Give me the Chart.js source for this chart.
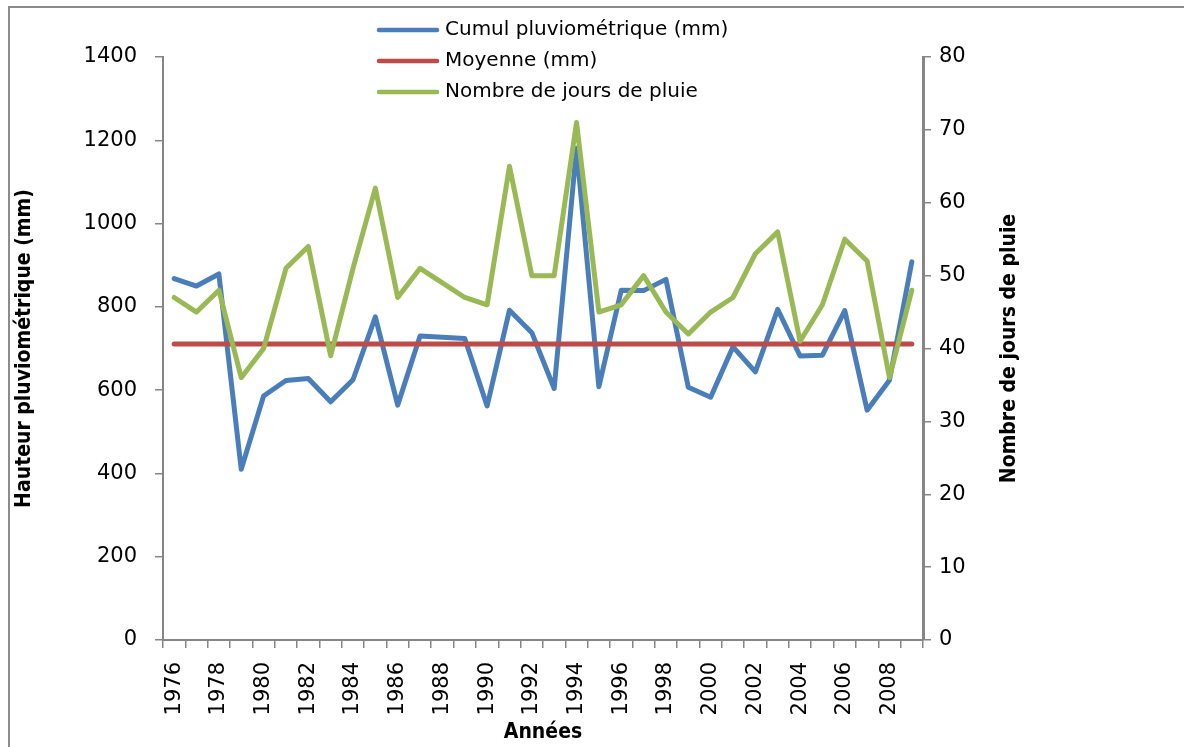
<!DOCTYPE html>
<html>
<head>
<meta charset="utf-8">
<script src="https://cdn.jsdelivr.net/npm/chart.js@4"></script>
<style>
  html, body { margin: 0; padding: 0; background: #fff; }
  #wrap { width: 1184px; height: 747px; }
</style>
</head>
<body>
<div id="wrap"><canvas id="pluie" width="1184" height="747"></canvas></div>
<script>
// données
const years = ['1976','1977','1978','1979','1980','1981','1982','1983','1984','1985',
  '1986','1987','1988','1989','1990','1991','1992','1993','1994','1995','1996','1997',
  '1998','1999','2000','2001','2002','2003','2004','2005','2006','2007','2008','2009'];
const cumul = [868, 850, 879, 410, 586, 623, 628, 572, 625, 776,
  564, 730, 727, 724, 562, 792, 738, 604, 1181, 608, 840, 839,
  866, 607, 583, 704, 644, 794, 682, 684, 791, 552, 624, 908];
const moyenne = years.map(() => 711);
const jours = [47, 45, 48, 36, 40, 51, 54, 39, 51, 62,
  47, 51, 49, 47, 46, 65, 50, 50, 71, 45, 46, 50,
  45, 42, 45, 47, 53, 56, 41, 46, 55, 52, 36, 48];

const axisGray = '#868686';
const tickFont = { family: 'DejaVu Sans', size: 21 };
const titleFamily = '"DejaVu Sans Condensed", Roboto, sans-serif';
const titleFont = { family: titleFamily, size: 21, weight: 'bold' };

// cadre, légende et titre de droite dessinés à la main
const frameAndLegend = {
  id: 'frameAndLegend',
  beforeDraw(chart) {
    const ctx = chart.ctx;
    ctx.save();
    ctx.fillStyle = '#fff';
    ctx.fillRect(0, 0, chart.width, chart.height);
    ctx.strokeStyle = '#8c8c8c';
    ctx.lineWidth = 2;
    ctx.strokeRect(9, 7, 1300, 900);
    ctx.restore();
  },
  afterDraw(chart) {
    const ctx = chart.ctx;
    const items = [
      { label: 'Cumul pluviométrique (mm)', color: chart.data.datasets[0].borderColor },
      { label: 'Moyenne (mm)', color: chart.data.datasets[1].borderColor },
      { label: 'Nombre de jours de pluie', color: chart.data.datasets[2].borderColor }
    ];
    ctx.save();
    ctx.font = '20px "DejaVu Sans"';
    ctx.textBaseline = 'middle';
    items.forEach((it, i) => {
      const y = 30 + i * 31;
      ctx.strokeStyle = it.color;
      ctx.lineWidth = 4.5;
      ctx.lineCap = 'round';
      ctx.beginPath();
      ctx.moveTo(379, y);
      ctx.lineTo(437, y);
      ctx.stroke();
      ctx.fillStyle = '#000';
      ctx.fillText(it.label, 445, y);
    });

    // titre de l'axe de droite, lu de bas en haut comme dans Excel
    const area = chart.chartArea;
    ctx.translate(1010, (area.top + area.bottom) / 2);
    ctx.rotate(-Math.PI / 2);
    ctx.font = 'bold 21px ' + titleFamily;
    ctx.textAlign = 'center';
    ctx.fillText('Nombre de jours de pluie', 0, 0);
    ctx.restore();
  }
};

const ctx = document.getElementById('pluie').getContext('2d');
new Chart(ctx, {
  type: 'line',
  data: {
    labels: years,
    datasets: [{
      label: 'Cumul pluviométrique (mm)',
      data: cumul,
      yAxisID: 'y',
      borderColor: '#4A7EBB',
      borderWidth: 5,
      order: 2
    }, {
      label: 'Moyenne (mm)',
      data: moyenne,
      yAxisID: 'y',
      borderColor: '#BE4B48',
      borderWidth: 5,
      order: 1
    }, {
      label: 'Nombre de jours de pluie',
      data: jours,
      yAxisID: 'y1',
      borderColor: '#98B954',
      borderWidth: 5,
      order: 0
    }]
  },
  options: {
    responsive: false,
    animation: false,
    layout: { padding: { top: 57, right: 161, left: 0, bottom: 0 } },
    elements: {
      point: { radius: 0 },
      line: { tension: 0, borderJoinStyle: 'round', borderCapStyle: 'round', fill: false }
    },
    plugins: {
      legend: { display: false },
      tooltip: { enabled: false }
    },
    scales: {
      x: {
        offset: true,
        grid: { offset: true, drawOnChartArea: false, tickLength: 8, color: axisGray, lineWidth: 1.5 },
        border: { color: axisGray, width: 2 },
        ticks: {
          autoSkip: false, maxRotation: 90, minRotation: 90, padding: 14,
          font: tickFont, color: '#000',
          callback: (v, i) => (i % 2 === 0 ? years[i] : '')
        },
        title: { display: true, text: 'Années', font: titleFont, color: '#000', padding: { top: 0, bottom: 2 } },
        afterFit: s => { s.height = 107; }
      },
      y: {
        position: 'left',
        min: 0, max: 1400,
        grid: { drawOnChartArea: false, tickLength: 8, color: axisGray, lineWidth: 1.5 },
        border: { color: axisGray, width: 2 },
        ticks: { stepSize: 200, padding: 18, font: tickFont, color: '#000', callback: v => String(v) },
        title: { display: true, text: 'Hauteur pluviométrique (mm)', font: titleFont, color: '#000', padding: { top: 12, bottom: 0 } },
        afterFit: s => { s.width = 163; }
      },
      y1: {
        position: 'right',
        min: 0, max: 80,
        grid: { drawOnChartArea: false, tickLength: 8, color: axisGray, lineWidth: 1.5 },
        border: { color: axisGray, width: 3 },
        ticks: { stepSize: 10, padding: 8, font: tickFont, color: '#000', callback: v => String(v) },
        title: { display: false },
        afterFit: s => { s.width = 100; }
      }
    }
  },
  plugins: [frameAndLegend]
});
</script>
</body>
</html>
